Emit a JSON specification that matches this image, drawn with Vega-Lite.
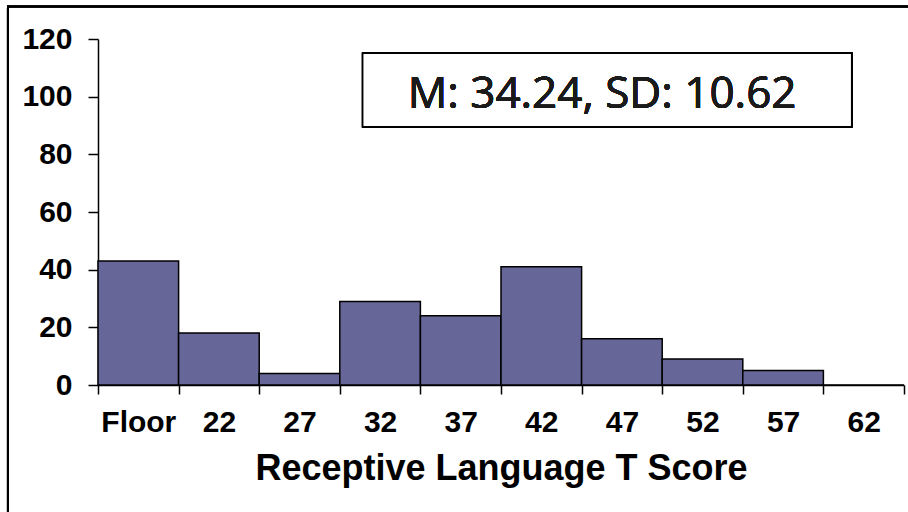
{
  "$schema": "https://vega.github.io/schema/vega-lite/v6.json",
  "width": 806,
  "height": 346,
  "autosize": {"type": "none"},
  "padding": {"left": 98, "top": 39, "right": 4, "bottom": 127},
  "background": "white",
  "config": {"view": {"stroke": null}, "font": "Liberation Sans"},
  "data": {"values": [
    {"score": "Floor", "count": 43},
    {"score": "22", "count": 18},
    {"score": "27", "count": 4},
    {"score": "32", "count": 29},
    {"score": "37", "count": 24},
    {"score": "42", "count": 41},
    {"score": "47", "count": 16},
    {"score": "52", "count": 9},
    {"score": "57", "count": 5},
    {"score": "62", "count": 0}
  ]},
  "layer": [
    {
      "mark": {"type": "rect", "fill": null, "stroke": "black", "strokeWidth": 1.5},
      "encoding": {
        "x": {"datum": -1.12, "type": "quantitative", "scale": {"domain": [0, 10]}, "axis": null},
        "x2": {"datum": 10.2},
        "y": {"datum": 131.3, "type": "quantitative"},
        "y2": {"datum": -50}
      }
    },
    {
      "mark": {"type": "bar", "fill": "#666699", "stroke": "black", "strokeWidth": 1.5},
      "encoding": {
        "x": {
          "field": "score", "type": "ordinal", "sort": null,
          "scale": {"paddingInner": 0, "paddingOuter": 0},
          "axis": {
            "domainColor": "black", "domainWidth": 1.5,
            "tickColor": "black", "tickWidth": 1.5, "tickSize": 9,
            "tickBand": "extent",
            "labelFont": "Liberation Sans", "labelFontWeight": "bold", "labelFontSize": 30,
            "labelColor": "black", "labelAngle": 0, "labelPadding": 13,
            "title": "Receptive Language T Score",
            "titleFont": "Liberation Sans", "titleFontWeight": "bold", "titleFontSize": 36,
            "titleColor": "black", "titlePadding": 14
          }
        },
        "y": {
          "field": "count", "type": "quantitative",
          "scale": {"domain": [0, 120]},
          "axis": {
            "values": [0, 20, 40, 60, 80, 100, 120],
            "grid": false, "title": null,
            "domainColor": "black", "domainWidth": 1.5,
            "tickColor": "black", "tickWidth": 1.5, "tickSize": 10,
            "labelFont": "Liberation Sans", "labelFontWeight": "bold", "labelFontSize": 30,
            "labelColor": "black", "labelPadding": 16
          }
        }
      }
    },
    {
      "mark": {"type": "rect", "fill": "white", "stroke": "black", "strokeWidth": 1.5},
      "encoding": {
        "x": {"datum": 3.284, "type": "quantitative", "scale": {"domain": [0, 10]}, "axis": null},
        "x2": {"datum": 9.351},
        "y": {"datum": 115.05, "type": "quantitative"},
        "y2": {"datum": 89.6}
      }
    },
    {
      "mark": {"type": "text", "font": "Open Sans", "fontSize": 44, "align": "center", "baseline": "alphabetic", "color": "#1a1a1a"},
      "encoding": {
        "x": {"datum": 6.254, "type": "quantitative", "scale": {"domain": [0, 10]}, "axis": null},
        "y": {"datum": 96.0, "type": "quantitative"},
        "text": {"value": "M: 34.24, SD: 10.62"}
      }
    }
  ],
  "resolve": {"scale": {"x": "independent"}}
}
